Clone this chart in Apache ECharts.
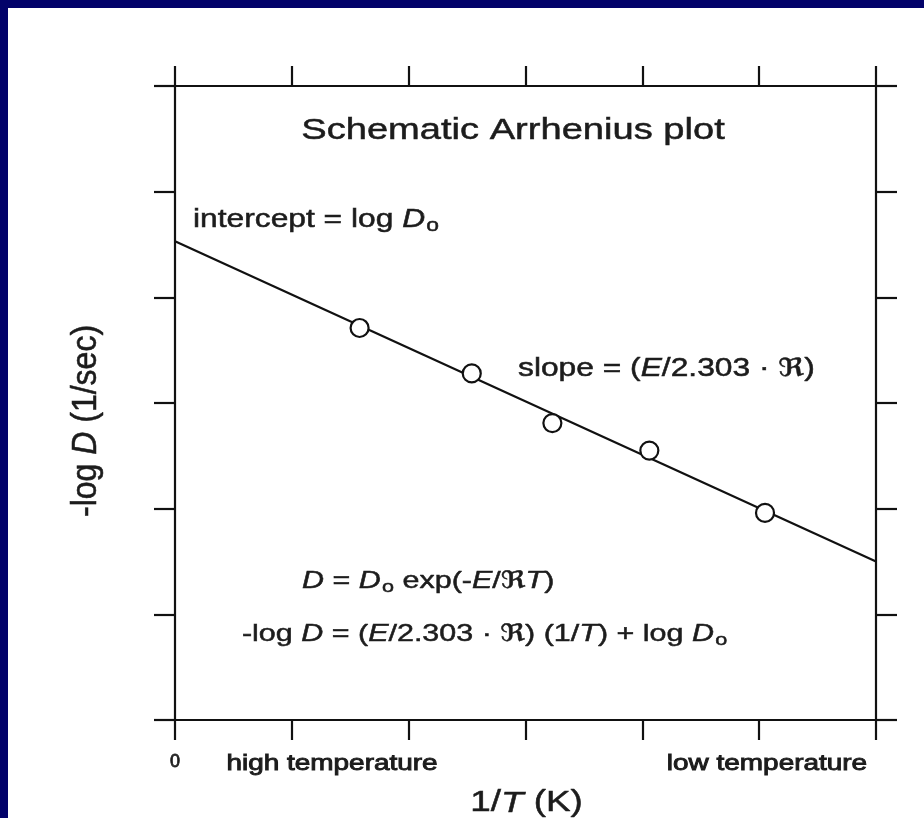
<!DOCTYPE html>
<html>
<head>
<meta charset="utf-8">
<script src="https://cdn.jsdelivr.net/npm/echarts@6/dist/echarts.min.js"></script>
<style>
  html, body { margin: 0; padding: 0; background: #02026a; width: 924px; height: 818px; overflow: hidden; }
  #chart { position: absolute; left: 8px; top: 8px; width: 916px; height: 810px; background: #ffffff; }
</style>
</head>
<body>
<div id="chart"></div>
<script>
// ---- data ----
const xTicks = [0, 1, 2, 3, 4, 5, 6];          // 1/T axis, schematic units
const yTicks = [0, 1, 2, 3, 4, 5, 6];          // -log D axis, schematic units
const xTickLabels = ['0', '', '', '', '', '', ''];
const pointX = [1.58, 2.54, 3.23, 4.06, 5.05];
const pointY = [3.71, 3.28, 2.81, 2.55, 1.96];
const fitX = [0, 6];
const fitY = [4.53, 1.50];

// ---- text annotations (anchored in data coordinates) ----
const FONT = "'Liberation Sans', 'DejaVu Sans', Arial, sans-serif";
const annotations = [
  { text: 'Schematic Arrhenius plot', x: 2.893, y: 5.574, fs: 30, align: 'center' },
  { text: 'intercept = log {i|D}{sub|o}', x: 0.154, y: 4.732, fs: 25, align: 'left' },
  { text: 'slope = ({i|E}/2.303 · ℜ)', x: 2.936, y: 3.322, fs: 25, align: 'left' },
  { text: '{i|D} = {i|D}{sub|o} exp(-{i|E}/ℜ{i|T})', x: 1.087, y: 1.315, fs: 24, align: 'left' },
  { text: '-log {i|D} = ({i|E}/2.303 · ℜ) (1/{i|T}) + log {i|D}{sub|o}', x: 0.573, y: 0.814, fs: 24, align: 'left' },
  { text: 'high temperature', x: 1.344, y: -0.412, fs: 22, align: 'center', heavy: true },
  { text: 'low temperature', x: 5.067, y: -0.412, fs: 22, align: 'center', heavy: true },
  { text: '1/{i|T} (K)', x: 3.009, y: -0.790, fs: 29, align: 'center' },
  { text: '-log {i|D} (1/sec)', x: -0.762, y: 2.83, fs: 32, align: 'center', rot: Math.PI / 2, sy: 1.08, sx: 1 }
];
const STRETCH = 1.27;
const INK = '#1c1c1c';

function richFor(fs, sw) {
  return {
    i: { fontStyle: 'italic', fontSize: fs, fontFamily: FONT, fill: INK, stroke: INK, lineWidth: sw },
    sub: { fontSize: Math.round(fs * 0.72), fontFamily: FONT, fill: INK, stroke: INK, lineWidth: sw,
           padding: [Math.round(fs * 0.5), 0, 0, 1] }
  };
}

const chart = echarts.init(document.getElementById('chart'), null, { renderer: 'canvas' });

const axisLineStyle = { color: '#111', width: 2.2 };
const baseX = {
  type: 'value', min: 0, max: 6, interval: 1,
  axisLine: { show: true, onZero: false, lineStyle: axisLineStyle },
  axisTick: { show: true, inside: false, length: 20, lineStyle: axisLineStyle },
  splitLine: { show: false }
};
const baseY = {
  type: 'value', min: 0, max: 6, interval: 1,
  axisLine: { show: true, onZero: false, lineStyle: axisLineStyle },
  axisTick: { show: true, inside: false, length: 21, lineStyle: axisLineStyle },
  splitLine: { show: false },
  axisLabel: { show: false }
};

const option = {
  animation: false,
  backgroundColor: '#ffffff',
  grid: { left: 167, right: 48, top: 78, bottom: 98, containLabel: false, outerBoundsMode: 'none' },
  xAxis: [
    Object.assign({}, baseX, {
      position: 'bottom',
      axisLabel: {
        show: true, margin: 33, fontSize: 18, fontFamily: FONT, color: INK,
        textBorderColor: INK, textBorderWidth: 0.8,
        formatter: function (v) { const k = xTicks.indexOf(v); return k >= 0 ? xTickLabels[k] : ''; }
      }
    }),
    Object.assign({}, baseX, { position: 'top', axisLabel: { show: false } })
  ],
  yAxis: [
    Object.assign({}, baseY, { position: 'left' }),
    Object.assign({}, baseY, { position: 'right' })
  ],
  series: [
    {
      type: 'line',
      xAxisIndex: 0, yAxisIndex: 0,
      data: fitX.map((x, i) => [x, fitY[i]]),
      showSymbol: false,
      lineStyle: { color: '#111', width: 2.2 },
      z: 2
    },
    {
      type: 'scatter',
      xAxisIndex: 0, yAxisIndex: 0,
      data: pointX.map((x, i) => [x, pointY[i]]),
      symbol: 'circle',
      symbolSize: 18,
      itemStyle: { color: '#ffffff', borderColor: '#111', borderWidth: 2.2, opacity: 1 },
      z: 3
    },
    {
      type: 'custom',
      xAxisIndex: 0, yAxisIndex: 0,
      clip: false,
      silent: true,
      data: annotations.map((a, i) => [a.x, a.y, i]),
      encode: { x: 0, y: 1 },
      renderItem: function (params, api) {
        const a = annotations[api.value(2)];
        const p = api.coord([api.value(0), api.value(1)]);
        const sw = a.heavy ? 0.9 : 0.5;
        return {
          type: 'text',
          x: p[0], y: p[1],
          rotation: a.rot || 0,
          scaleX: a.sx != null ? a.sx : STRETCH,
          scaleY: a.sy != null ? a.sy : 1,
          style: {
            text: a.text,
            fontSize: a.fs,
            fontFamily: FONT,
            fill: INK,
            stroke: INK,
            lineWidth: sw,
            align: a.align,
            verticalAlign: 'middle',
            rich: richFor(a.fs, sw)
          }
        };
      },
      z: 4
    }
  ]
};
chart.setOption(option);
</script>
</body>
</html>
